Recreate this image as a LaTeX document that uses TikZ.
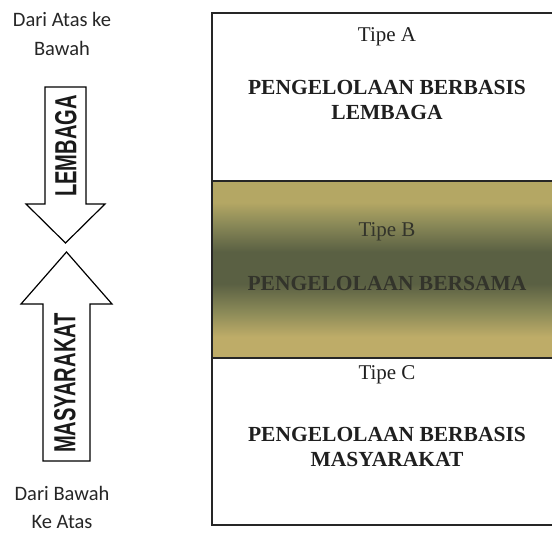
\documentclass[tikz,border=0pt]{standalone}
\usepackage{fontspec}
\setmainfont{Liberation Serif}
\newfontfamily\labelfont{Carlito}
\newfontfamily\arrowfont{Liberation Sans}
\usetikzlibrary{calc}

\definecolor{bandgold}{HTML}{B4A764}
\definecolor{bandgoldlow}{HTML}{BEAC68}
\definecolor{bandmid}{HTML}{8B8A58}
\definecolor{banddark}{HTML}{5A6043}
\definecolor{frameline}{HTML}{262626}
\definecolor{bandtext}{HTML}{33342B}

% vertical gradient of the middle band; 25bp = bottom edge, 75bp = top edge
\pgfdeclareverticalshading{bandshade}{100bp}{
  color(0bp)=(bandgoldlow);
  color(25bp)=(bandgoldlow);
  color(31bp)=(bandgoldlow);
  color(38bp)=(bandmid);
  color(46bp)=(banddark);
  color(55bp)=(banddark);
  color(63bp)=(bandmid);
  color(69bp)=(bandgold);
  color(75bp)=(bandgold);
  color(100bp)=(bandgold)}

\tikzset{
  sidetext/.style={font=\labelfont\fontsize{20.5}{24}\selectfont, text=black!85, align=center, inner sep=0pt},
  typetext/.style={font=\fontsize{21}{25}\selectfont, text=black!88, inner sep=0pt},
  headtext/.style={font=\fontsize{21.5}{25}\selectfont\bfseries, text=black!88, align=center, inner sep=0pt},
  arrowshape/.style={draw=black, line width=1.2pt, fill=white, line join=miter},
  arrowlabel/.style={rotate=90, inner sep=0pt, text=black!90},
  frame/.style={draw=frameline, line width=1.6pt}
}

\newcommand{\arrowword}[1]{\scalebox{0.66}[1]{\arrowfont\fontsize{30.5}{30}\selectfont\bfseries #1}}

\begin{document}
\begin{tikzpicture}[x=1pt, y=-1pt]
  \useasboundingbox (0,0) rectangle (552,533);
  \clip (0,0) rectangle (552,533);

  % left column: direction captions
  \node[sidetext] (topcap) at (62,34) {Dari Atas ke\\[5pt]Bawah};
  \node[sidetext] (botcap) at (62,507) {Dari Bawah\\[4pt]Ke Atas};

  % downward arrow
  \draw[arrowshape] (45,87) -- (86,87) -- (86,204) -- (105,204) -- (65.5,243)
        -- (26,204) -- (45,204) -- cycle;
  \node[arrowlabel] (lembaga) at (66,146) {\arrowword{LEMBAGA}};

  % upward arrow
  \draw[arrowshape] (43,461) -- (90,461) -- (90,304) -- (112,304) -- (66.5,252)
        -- (21,304) -- (43,304) -- cycle;
  \node[arrowlabel] (masyarakat) at (65,383) {\arrowword{MASYARAKAT}};

  % right column: three management types
  \fill[shading=bandshade] (212,181) rectangle (580,358);
  \draw[frame] (212,13) rectangle (580,525);
  \draw[frame] (212,181) -- (580,181);
  \draw[frame] (212,358) -- (580,358);

  \node[typetext] (tipea) at (387,37) {Tipe A};
  \node[headtext] (heada) at (387,100) {PENGELOLAAN BERBASIS\\LEMBAGA};

  \node[typetext, text=bandtext] (tipeb) at (387,232) {Tipe B};
  \node[headtext, text=bandtext] (headb) at (387,283) {PENGELOLAAN BERSAMA};

  \node[typetext] (tipec) at (387,375) {Tipe C};
  \node[headtext] (headc) at (387,447) {PENGELOLAAN BERBASIS\\MASYARAKAT};
\end{tikzpicture}
\end{document}
